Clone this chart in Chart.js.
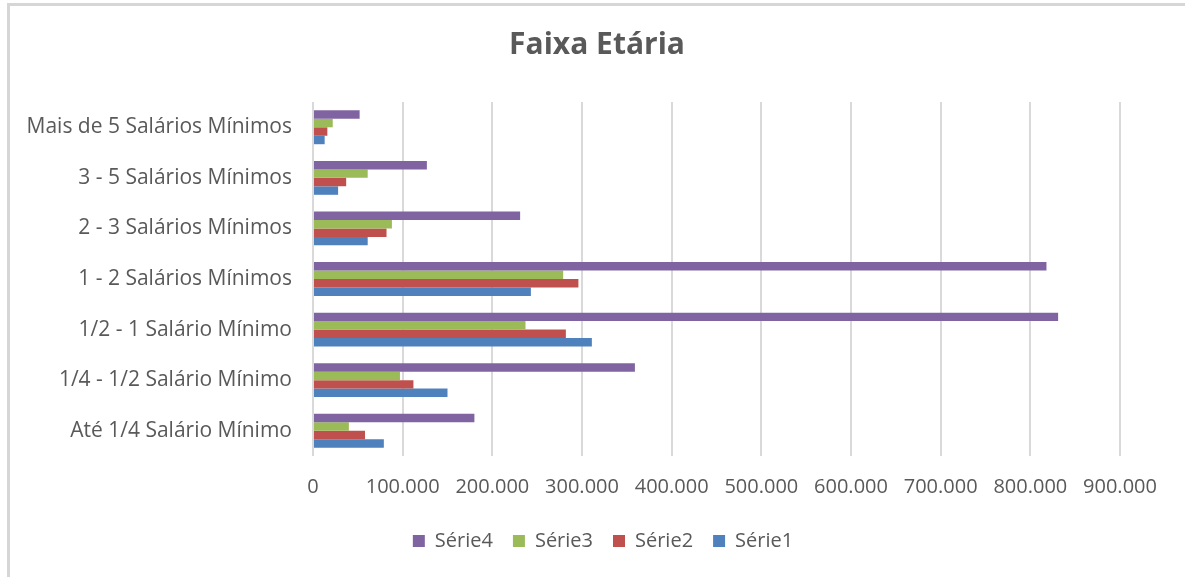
<!DOCTYPE html>
<html>
<head>
<meta charset="utf-8">
<script src="https://cdn.jsdelivr.net/npm/chart.js@4.4.1/dist/chart.umd.min.js"></script>
<style>
  html, body { margin: 0; padding: 0; background: #ffffff; }
  #wrap { position: relative; width: 1185px; height: 577px; overflow: hidden; }
  #frame { position: absolute; left: 7px; top: 3px; width: 1300px; height: 700px;
           border-left: 3px solid #d6d6d6; border-top: 3px solid #d6d6d6; box-sizing: border-box; }
  canvas { position: absolute; left: 0; top: 0; }
</style>
</head>
<body>
<div id="wrap">
  <div id="frame"></div>
  <canvas id="c" width="1185" height="577"></canvas>
</div>
<script>
// Categories listed top to bottom as they appear in the chart
const categories = [
  "Mais de 5 Salários Mínimos",
  "3 - 5 Salários Mínimos",
  "2 - 3 Salários Mínimos",
  "1 - 2 Salários Mínimos",
  "1/2 - 1 Salário Mínimo",
  "1/4 - 1/2 Salário Mínimo",
  "Até 1/4 Salário Mínimo"
];
const serie1 = [13000, 28000, 61000, 243000, 311000, 150000, 79000];
const serie2 = [16000, 37000, 82000, 296000, 282000, 112000, 58000];
const serie3 = [22000, 61000, 88000, 279000, 237000, 97000, 40000];
const serie4 = [52000, 127000, 231000, 818000, 831000, 359000, 180000];
const seriesNames = ["Série4", "Série3", "Série2", "Série1"];
const xTickMax = 900000;
const xTickStep = 100000;

const colors = {
  "Série1": "#4F81BD",
  "Série2": "#C0504D",
  "Série3": "#9BBB59",
  "Série4": "#8064A2"
};
const seriesData = { "Série1": serie1, "Série2": serie2, "Série3": serie3, "Série4": serie4 };

const FONT = "'Open Sans', 'DejaVu Sans', sans-serif";
const GRAY = "#595959";

function fmt(v) {
  return String(v).replace(/\B(?=(\d{3})+(?!\d))/g, ".");
}

// Shift title and legend horizontally so they sit where the reference has them
const shiftBlocks = {
  id: "shiftBlocks",
  afterLayout(chart) {
    if (chart.titleBlock) { chart.titleBlock.left += 32; chart.titleBlock.right += 32; }
    if (chart.legend) { chart.legend.left += 38; chart.legend.right += 38; }
  }
};

new Chart(document.getElementById("c"), {
  type: "bar",
  data: {
    labels: categories,
    datasets: seriesNames.map(n => ({
      label: n,
      data: seriesData[n],
      backgroundColor: colors[n],
      borderWidth: 0,
      categoryPercentage: 0.67,
      barPercentage: 1.0
    }))
  },
  plugins: [shiftBlocks],
  options: {
    indexAxis: "y",
    responsive: false,
    animation: false,
    layout: { padding: { left: 10, right: 65, top: 0, bottom: 16 } },
    plugins: {
      title: {
        display: true,
        text: "Faixa Etária",
        color: GRAY,
        font: { family: FONT, size: 30, weight: "bold" },
        padding: { top: 27, bottom: 39 }
      },
      legend: {
        display: true,
        position: "bottom",
        labels: {
          color: GRAY,
          font: { family: FONT, size: 20 },
          boxWidth: 12,
          boxHeight: 12,
          padding: 20
        }
      },
      tooltip: { enabled: false }
    },
    scales: {
      x: {
        type: "linear",
        min: 0,
        max: xTickMax,
        border: { display: false },
        grid: { color: "#d9d9d9", lineWidth: 2, drawTicks: false },
        ticks: {
          stepSize: xTickStep,
          color: GRAY,
          font: { family: FONT, size: 20 },
          padding: 19,
          callback: v => fmt(v)
        },
        afterFit: s => { s.height = 55; }
      },
      y: {
        border: { display: false },
        grid: { display: false, drawTicks: false },
        ticks: {
          color: GRAY,
          font: { family: FONT, size: 21 },
          padding: 21
        },
        afterFit: s => { s.width = 303; }
      }
    }
  }
});
</script>
</body>
</html>
